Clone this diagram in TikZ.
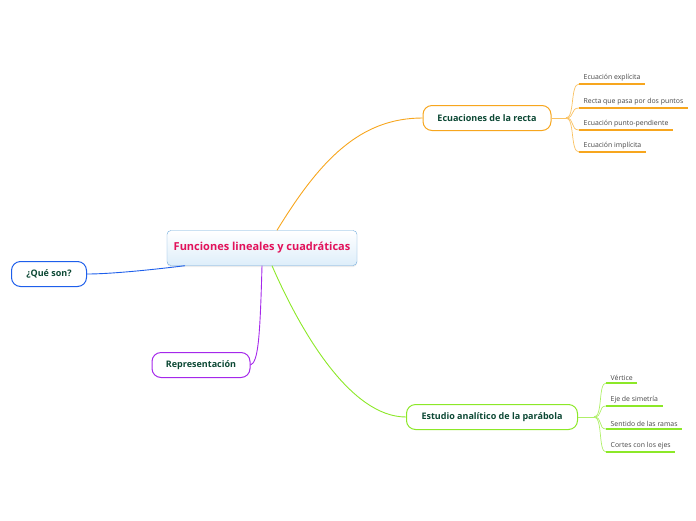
\documentclass[tikz,border=0pt]{standalone}
\usepackage{fontspec}
\setmainfont{Open Sans}
\usetikzlibrary{positioning,shadows}
\definecolor{centralline}{RGB}{110,170,220}
\definecolor{centralfill}{RGB}{222,238,250}
\definecolor{centraltext}{RGB}{226,18,90}
\definecolor{topictext}{RGB}{12,72,52}
\definecolor{orangeline}{RGB}{247,166,30}
\definecolor{greenline}{RGB}{140,232,40}
\definecolor{blueline}{RGB}{30,95,235}
\definecolor{purpleline}{RGB}{165,40,235}
\definecolor{itemtext}{RGB}{70,70,70}
\tikzset{
  central/.style={rectangle, draw=centralline, rounded corners=4pt, top color=white, bottom color=centralfill,
    minimum width=190pt, minimum height=35pt, font=\fontsize{11}{13}\selectfont\bfseries, text=centraltext,
    drop shadow={opacity=0.15, shadow xshift=0pt, shadow yshift=-1.5pt}},
  topic/.style={rectangle, draw=#1, line width=1pt, rounded corners=9pt, fill=white,
    minimum height=25pt, font=\fontsize{9}{11}\selectfont\bfseries, text=topictext},
  item/.style={inner xsep=4.5pt, inner ysep=2.5pt, font=\fontsize{6.9}{8}\selectfont, text=itemtext, anchor=south west},
  branch/.style={draw=#1, line width=0.9pt},
  subbranch/.style={draw=#1!70, line width=0.7pt},
  uline/.style={draw=#1, line width=1.4pt},
}

\begin{document}
\begin{tikzpicture}[x=1pt,y=-1pt]
\useasboundingbox (0,0) rectangle (696,520);

% main nodes
\node[central] (root) at (262,248) {Funciones lineales y cuadráticas};
\node[topic=orangeline, minimum width=128pt] (rec) at (487,118) {Ecuaciones de la recta};
\node[topic=greenline, minimum width=171pt] (par) at (492,417) {Estudio analítico de la parábola};
\node[topic=blueline, minimum width=75pt] (que) at (49,274) {¿Qué son?};
\node[topic=purpleline, minimum width=98pt] (rep) at (201,365) {Representación};

% branches
\draw[branch=orangeline] ([xshift=15pt]root.north) .. controls (320,160) and (360,118) .. (rec.west);
\draw[branch=greenline] ([xshift=10pt]root.south) .. controls (300,330) and (350,417) .. (par.west);
\draw[branch=purpleline] (root.south) .. controls (260,340) and (258,362) .. (rep.east);
\draw[branch=blueline] ([xshift=-77pt]root.south) .. controls (150,270) and (110,274) .. (que.east);

% subtopics of the line
\coordinate (recfork) at (566,118);
\draw[subbranch=orangeline] (rec.east) -- (recfork);
\foreach \y/\name/\txt in {84/r1/Ecuación explícita, 108/r2/Recta que pasa por dos puntos,
    130/r3/Ecuación punto-pendiente, 152/r4/Ecuación implícita}{
  \node[item] (\name) at (579,\y) {\txt};
  \draw[subbranch=orangeline] (recfork) .. controls (575,118) and (570,\y) .. (\name.south west);
  \draw[uline=orangeline] (\name.south west) -- (\name.south east);
}

% subtopics of the parabola
\coordinate (parfork) at (594,417);
\draw[subbranch=greenline] (par.east) -- (parfork);
\foreach \y/\name/\txt in {383/p1/Vértice, 406/p2/Eje de simetría,
    429/p3/Sentido de las ramas, 452/p4/Cortes con los ejes}{
  \node[item] (\name) at (606,\y) {\txt};
  \draw[subbranch=greenline] (parfork) .. controls (603,417) and (598,\y) .. (\name.south west);
  \draw[uline=greenline] (\name.south west) -- (\name.south east);
}
\end{tikzpicture}
\end{document}
